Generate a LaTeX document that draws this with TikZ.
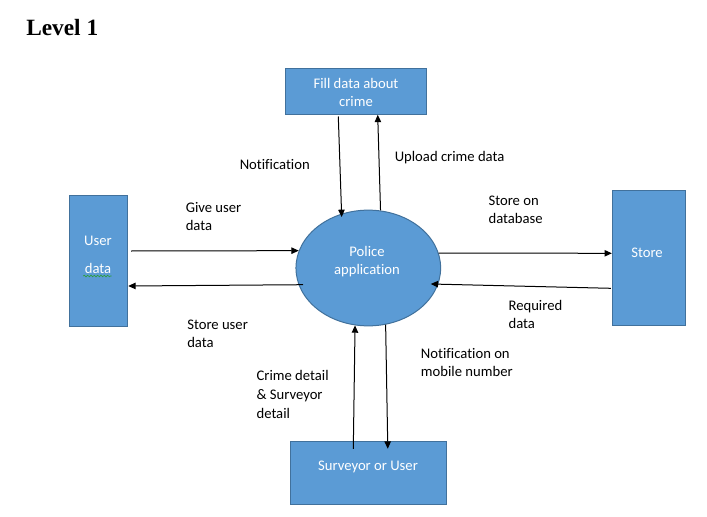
\documentclass[tikz,border=0pt]{standalone}
\usepackage{fontspec}
\setmainfont{Carlito}[Ligatures=NoCommon]
\newfontfamily\titlefont{Liberation Serif}
\usetikzlibrary{arrows.meta,shapes.geometric,calc,decorations.pathmorphing}
\definecolor{boxblue}{HTML}{5B9BD5}
\definecolor{boxedge}{HTML}{41719C}
\definecolor{spellgreen}{HTML}{2E9E3E}
\begin{document}
\begin{tikzpicture}[x=0.75pt,y=-0.75pt,
  procbox/.style={draw=boxedge,fill=boxblue,line width=0.75pt,inner sep=0pt},
  boxtext/.style={text=white,font=\fontsize{11pt}{13.5pt}\selectfont,align=center,inner sep=0pt},
  lbl/.style={font=\fontsize{11pt}{13.5pt}\selectfont,align=left,anchor=west,inner sep=0pt},
  flow/.style={draw=black,line width=0.75pt,-{Triangle[length=5.5pt,width=4.8pt]}}]
\useasboundingbox (0,0) rectangle (707,517);

\node[anchor=west,inner sep=0pt,font=\titlefont\bfseries\fontsize{17.5pt}{20pt}\selectfont] (title) at (26,28) {Level 1};

% boxes
\node[procbox,minimum width=106.3pt,minimum height=34.5pt] (fill) at (356,91.3) {};
\node[boxtext] (filltext) at (356,92.2) {Fill data about\\crime};
\node[procbox,minimum width=43.8pt,minimum height=98.5pt] (user) at (98.5,260.7) {};
\node[boxtext] (usertext) at (98,254.7) {User\\[8pt]data};
\node[procbox,ellipse,minimum width=108.5pt,minimum height=86.8pt] (police) at (368.3,268) {};
\node[boxtext] (policetext) at (367,261.5) {Police\\application};
\node[procbox,minimum width=54.5pt,minimum height=101pt] (store) at (648.7,258.3) {};
\node[boxtext] (storetext) at (647,252.7) {Store};
\node[procbox,minimum width=116.8pt,minimum height=47pt] (surveyor) at (368.8,473) {};
\node[boxtext] (surveyortext) at (368,467.3) {Surveyor or User};

% spell-check squiggle
\draw[spellgreen,line width=0.5pt,decorate,decoration={snake,amplitude=0.6pt,segment length=2.5pt}] (83.3,276) -- (111.7,276);

% flows
\draw[flow] ($(fill.south)+(-17.7,1.7)$) -- ($(police.center)+(-26.6,-51)$);
\draw[flow] (police.78) -- ($(fill.south)+(21.7,0)$);
\draw[flow] ($(user.east)+(3,-9.7)$) -- (police.166);
\draw[flow] ($(police.center)+(-65.3,16.7)$) -- ($(user.east)+(0,25.3)$);
\draw[flow] (police.12) -- ($(store.west)+(0,-5)$);
\draw[flow] ($(store.west)+(-1,30)$) -- ($(police.center)+(62.4,16)$);
\draw[flow] ($(surveyor.north)+(-15.5,7.6)$) -- (police.257.5);
\draw[flow] (police.-73) -- ($(surveyor.north)+(19,7.6)$);

% labels
\node[lbl] (lnotif) at (239.5,164.3) {Notification};
\node[lbl] (lupload) at (394.5,157.3) {Upload crime data};
\node[lbl] (lgive) at (185.5,216.2) {Give user\\data};
\node[lbl] (lstoreuser) at (187,333.3) {Store user\\data};
\node[lbl] (lstoredb) at (488.3,209.5) {Store on\\database};
\node[lbl] (lreq) at (508.3,314.3) {Required\\data};
\node[lbl] (lnotmob) at (420.7,362.2) {Notification on\\mobile number};
\node[lbl,font=\fontsize{11pt}{14.25pt}\selectfont] (lcrime) at (256.3,394) {Crime detail\\\& Surveyor\\detail};
\end{tikzpicture}
\end{document}
